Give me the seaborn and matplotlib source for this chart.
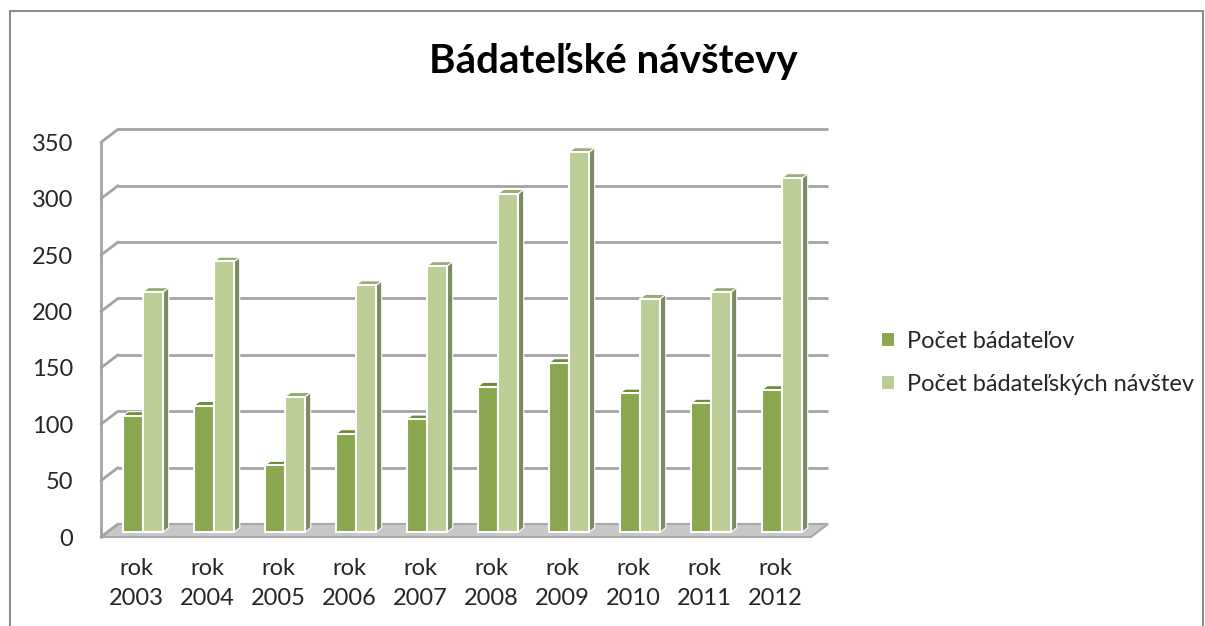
import pandas as pd
import matplotlib.pyplot as plt
import seaborn as sns
from matplotlib.patches import Polygon, Rectangle
from matplotlib.transforms import ScaledTranslation

years = ['2003', '2004', '2005', '2006', '2007', '2008', '2009', '2010', '2011', '2012']
badatelia = [103, 112, 59, 87, 100, 129, 150, 123, 114, 126]
navstevy = [213, 240, 120, 219, 236, 300, 337, 207, 213, 314]
series = ['Počet bádateľov', 'Počet bádateľských návštev']
colors = ['#8aa64e', '#bdcd96']
top_colors = ['#6f8a35', '#9aab72']
side_colors = ['#6f8a35', '#7d8b63']

labels = ['rok\n' + y for y in years]
df = pd.DataFrame({
    'rok': labels * 2,
    'pocet': badatelia + navstevy,
    'seria': [series[0]] * len(years) + [series[1]] * len(years),
})

sns.set_style('white')
plt.rcParams['font.family'] = ['Lato', 'DejaVu Sans']

W, H = 1205, 626
fig = plt.figure(figsize=(W / 100, H / 100), dpi=100)
ax_l, ax_b, ax_w, ax_h = 101, 537, 710, 394.7
ax = fig.add_axes([ax_l / W, (H - ax_b) / H, ax_w / W, ax_h / H])

sns.barplot(data=df, x='rok', y='pocet', hue='seria', palette=colors,
            width=0.57, edgecolor='white', linewidth=1.5, saturation=1,
            ax=ax, zorder=3)

ax.set_xlim(-0.5, len(years) - 0.5)
ax.set_ylim(0, 350)
ax.set_yticks(range(0, 351, 50))
px_x = ax_w / len(years)
px_y = ax_h / 350

# 3d look: wall depth and bar depth in pixels
DX, DY = 17, 13
dxu, dyu = DX / px_x, DY / px_y
grid_c = '#a3a3a3'
x0, x1 = -0.5, len(years) - 0.5

floor = Polygon([(x0, 0), (x1, 0), (x1 + dxu, dyu), (x0 + dxu, dyu)],
                closed=True, facecolor='#c8c8c8', edgecolor='#a8a8a8',
                lw=1.5, zorder=1, clip_on=False)
ax.add_patch(floor)
for v in range(0, 351, 50):
    if v > 0:
        ax.plot([x0 + dxu, x1 + dxu], [v + dyu, v + dyu], color=grid_c, lw=2,
                zorder=0.5, clip_on=False, solid_capstyle='butt')
    ax.plot([x0, x0 + dxu], [v, v + dyu], color=grid_c, lw=2, zorder=1.5,
            clip_on=False)
ax.plot([x0, x0], [0, 350], color=grid_c, lw=2, zorder=1.5, clip_on=False)

# bars sit in the middle of the depth
shift = ax.transData + ScaledTranslation(6.5 / 100, 5 / 100, fig.dpi_scale_trans)
bx, by = 5.5 / px_x, 4.2 / px_y
bars = [p for p in ax.patches if isinstance(p, Rectangle) and p.get_height() > 0]
n = len(years)
for i, p in enumerate(bars[:2 * n]):
    s = i // n
    x, w, h = p.get_x(), p.get_width(), p.get_height()
    p.set_transform(shift)
    p.set_clip_on(False)
    side = Polygon([(x + w, 0), (x + w + bx, by), (x + w + bx, h + by), (x + w, h)],
                   closed=True, facecolor=side_colors[s], edgecolor='white',
                   lw=0.8, zorder=2.5, transform=shift, clip_on=False)
    top = Polygon([(x, h), (x + bx, h + by), (x + w + bx, h + by), (x + w, h)],
                  closed=True, facecolor=top_colors[s], edgecolor='white',
                  lw=0.8, zorder=2.5, transform=shift, clip_on=False)
    ax.add_patch(side)
    ax.add_patch(top)

for sp in ax.spines.values():
    sp.set_visible(False)
ax.set_xlabel('')
ax.set_ylabel('')
ax.tick_params(axis='x', length=0, pad=15, labelsize=17, labelcolor='#262626')
ax.tick_params(axis='y', length=0, pad=20, labelsize=17, labelcolor='#262626')
for t in ax.get_xticklabels():
    t.set_linespacing(1.55)

handles, _ = ax.get_legend_handles_labels()
ax.legend(handles, series, loc='center left', bbox_to_anchor=(860 / W, (H - 363) / H),
          bbox_transform=fig.transFigure, frameon=False, fontsize=17,
          handlelength=0.6, handleheight=0.6, handletextpad=0.5, labelspacing=0.95,
          labelcolor='#262626')

fig.text(613 / W, 1 - 62 / H, 'Bádateľské návštevy', ha='center', va='center',
         fontsize=29, fontweight='bold', color='black')

fig.add_artist(Rectangle((10 / W, -0.05), (W - 12) / W, (H - 11) / H + 0.05,
                         transform=fig.transFigure, fill=False,
                         edgecolor='#8c8c8c', lw=1.5))

fig.savefig('out.png', dpi=100)
